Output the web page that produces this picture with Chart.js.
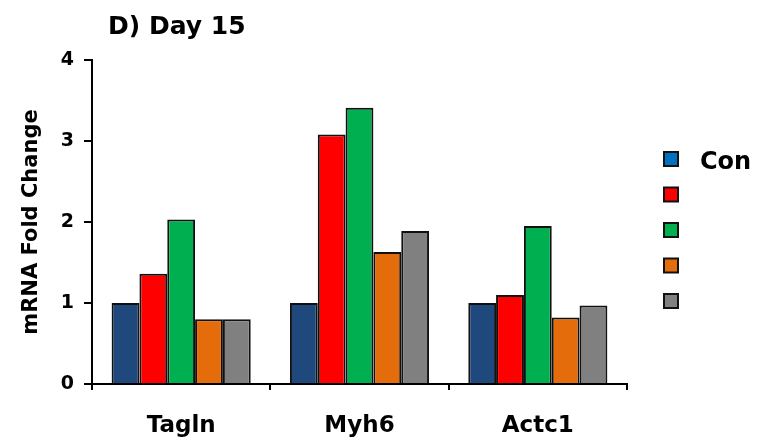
<!DOCTYPE html>
<html>
<head>
<meta charset="utf-8">
<title>D) Day 15</title>
<script src="https://cdn.jsdelivr.net/npm/chart.js@4.4.1/dist/chart.umd.min.js"></script>
<style>
    html, body { margin: 0; padding: 0; background: #fff; }
    #wrap { width: 763px; height: 442px; }
</style>
</head>
<body>
<div id="wrap"><canvas id="chart" width="763" height="442"></canvas></div>
<script>
// Values (mRNA fold change, day 15).
const genes = ['Tagln', 'Myh6', 'Actc1'];
const seriesNames = ['Con', '', '', '', ''];
const conValues = [1.00, 1.00, 1.00];
const redValues = [1.36, 3.08, 1.10];
const greenValues = [2.03, 3.41, 1.95];
const orangeValues = [0.80, 1.63, 0.82];
const greyValues = [0.80, 1.89, 0.97];
const yTicks = [0, 1, 2, 3, 4];

const barColors = ['#1F497D', '#FF0000', '#00B050', '#E46C0A', '#808080'];
const legendColors = ['#0070C0', '#FF0000', '#00B050', '#E46C0A', '#808080'];
const FONT = '"DejaVu Sans", sans-serif';

const seriesValues = [conValues, redValues, greenValues, orangeValues, greyValues];

// Panel title, drawn top left like the original figure.
const panelTitle = {
    id: 'panelTitle',
    afterDraw(chart) {
        const ctx = chart.ctx;
        ctx.save();
        ctx.font = 'bold 25px ' + FONT;
        ctx.fillStyle = '#000';
        ctx.textBaseline = 'alphabetic';
        ctx.fillText('D) Day 15', 108, 34);
        ctx.restore();
    }
};

// Boxed legend on the right, one square per series.
const boxLegend = {
    id: 'boxLegend',
    afterDraw(chart) {
        const ctx = chart.ctx;
        ctx.save();
        chart.data.datasets.forEach(function (ds, i) {
            const y = 152 + i * 35.5;
            ctx.fillStyle = ds.legendColor;
            ctx.fillRect(664, y, 14, 14);
            ctx.lineWidth = 2;
            ctx.strokeStyle = '#111';
            ctx.strokeRect(664, y, 14, 14);
            if (ds.label) {
                ctx.font = 'bold 24px ' + FONT;
                ctx.fillStyle = '#000';
                ctx.textBaseline = 'middle';
                ctx.fillText(ds.label, 700, y + 11);
            }
        });
        ctx.restore();
    }
};

const ctx = document.getElementById('chart').getContext('2d');
new Chart(ctx, {
    type: 'bar',
    data: {
        labels: genes,
        datasets: seriesValues.map(function (vals, i) {
            return {
                label: seriesNames[i],
                data: vals,
                backgroundColor: barColors[i],
                legendColor: legendColors[i],
                borderColor: '#111',
                borderWidth: 2,
                categoryPercentage: 0.78,
                barPercentage: 1.0
            };
        })
    },
    options: {
        responsive: false,
        animation: false,
        devicePixelRatio: 1,
        layout: { padding: { top: 60, right: 136, bottom: 0, left: 10 } },
        plugins: {
            legend: { display: false },
            tooltip: { enabled: false },
            title: { display: false }
        },
        scales: {
            x: {
                afterFit: function (scale) { scale.height = 58; },
                grid: { drawOnChartArea: false, color: '#000', lineWidth: 2, tickLength: 6 },
                border: { color: '#000', width: 2 },
                ticks: { color: '#000', padding: 22, font: { family: FONT, size: 23, weight: 'bold' } }
            },
            y: {
                min: 0,
                max: 4,
                afterBuildTicks: function (scale) {
                    scale.ticks = yTicks.map(function (v) { return { value: v }; });
                },
                afterFit: function (scale) { scale.width = 82; },
                grid: { drawOnChartArea: false, color: '#000', lineWidth: 2, tickLength: 8 },
                border: { color: '#000', width: 2 },
                ticks: { color: '#000', padding: 10, font: { family: FONT, size: 19, weight: 'bold' } },
                title: {
                    display: true,
                    text: 'mRNA Fold Change',
                    color: '#000',
                    padding: { top: 9, bottom: 0 },
                    font: { family: FONT, size: 21, weight: 'bold' }
                }
            }
        }
    },
    plugins: [panelTitle, boxLegend]
});
</script>
</body>
</html>
